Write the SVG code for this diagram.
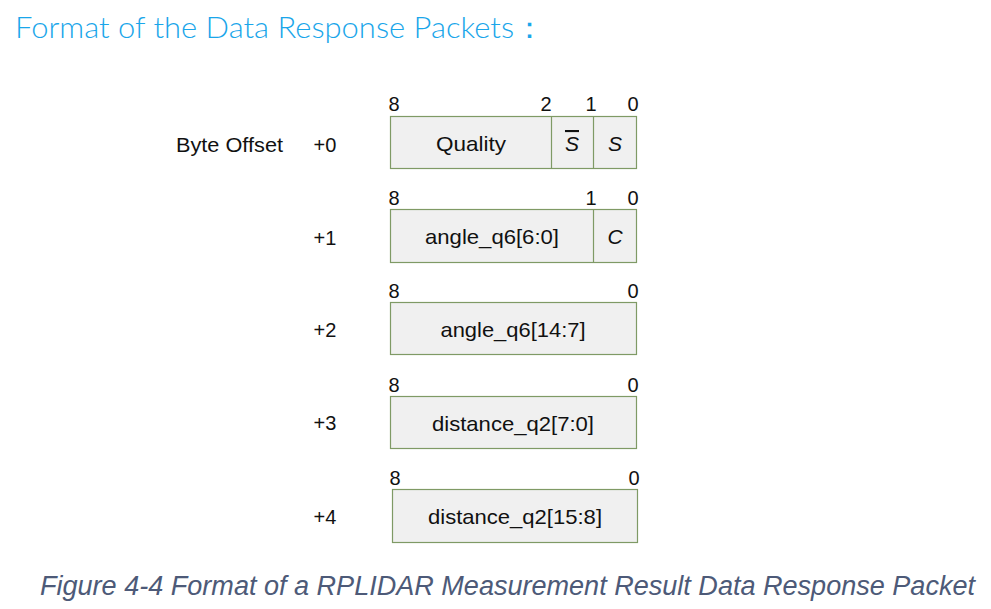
<svg xmlns="http://www.w3.org/2000/svg" width="991" height="609" viewBox="0 0 991 609">
<style>
.t{font-family:"Liberation Sans","Open Sans",sans-serif;font-size:20px;fill:#111}
.l{font-family:"Liberation Sans","Open Sans",sans-serif;font-size:21px;fill:#111}
.n{font-family:"Liberation Sans","Open Sans",sans-serif;font-size:20px;fill:#111}
.box{fill:#f0f0f0;stroke:#7f9a65;stroke-width:1.2}
.div{stroke:#7f9a65;stroke-width:1.2}
.it{font-style:italic}
</style>
<rect width="991" height="609" fill="#fff"/>
<text x="15" y="38" font-family="Lato,'Open Sans',sans-serif" font-weight="300" font-size="30" fill="#1aa6ea" textLength="530" lengthAdjust="spacingAndGlyphs">Format of the Data Response Packets：</text>
<text class="t" x="176" y="152" textLength="107" lengthAdjust="spacingAndGlyphs">Byte Offset</text>
<g id="row0">
<rect class="box" x="390.5" y="116.5" width="246" height="52"/>
<line class="div" x1="551.5" y1="116.5" x2="551.5" y2="168.5"/>
<line class="div" x1="593.5" y1="116.5" x2="593.5" y2="168.5"/>
<text class="t" x="325" y="152" text-anchor="middle">+0</text>
<text class="n" x="394" y="111" text-anchor="middle">8</text>
<text class="n" x="546" y="111" text-anchor="middle">2</text>
<text class="n" x="591" y="111" text-anchor="middle">1</text>
<text class="n" x="633" y="111" text-anchor="middle">0</text>
<text class="l" x="471" y="151" text-anchor="middle" textLength="70" lengthAdjust="spacingAndGlyphs">Quality</text>
<text class="l it" x="572" y="151" text-anchor="middle" text-decoration="overline">S</text>
<text class="l it" x="615" y="151" text-anchor="middle">S</text>
</g>
<g id="row1">
<rect class="box" x="390.5" y="209.5" width="246" height="53"/>
<line class="div" x1="593.5" y1="209.5" x2="593.5" y2="262.5"/>
<text class="t" x="325" y="245" text-anchor="middle">+1</text>
<text class="n" x="394" y="205" text-anchor="middle">8</text>
<text class="n" x="591" y="205" text-anchor="middle">1</text>
<text class="n" x="633" y="205" text-anchor="middle">0</text>
<text class="l" x="492" y="244" text-anchor="middle" textLength="134" lengthAdjust="spacingAndGlyphs">angle_q6[6:0]</text>
<text class="l it" x="615" y="244" text-anchor="middle">C</text>
</g>
<g id="row2">
<rect class="box" x="390.5" y="302.5" width="246" height="52"/>
<text class="t" x="325" y="337" text-anchor="middle">+2</text>
<text class="n" x="394" y="298" text-anchor="middle">8</text>
<text class="n" x="633" y="298" text-anchor="middle">0</text>
<text class="l" x="513" y="337" text-anchor="middle" textLength="145" lengthAdjust="spacingAndGlyphs">angle_q6[14:7]</text>
</g>
<g id="row3">
<rect class="box" x="390.5" y="396.5" width="246" height="52"/>
<text class="t" x="325" y="430" text-anchor="middle">+3</text>
<text class="n" x="394" y="392" text-anchor="middle">8</text>
<text class="n" x="633" y="392" text-anchor="middle">0</text>
<text class="l" x="513" y="431" text-anchor="middle" textLength="162" lengthAdjust="spacingAndGlyphs">distance_q2[7:0]</text>
</g>
<g id="row4">
<rect class="box" x="392.5" y="489.5" width="245" height="53"/>
<text class="t" x="325" y="524" text-anchor="middle">+4</text>
<text class="n" x="395" y="485" text-anchor="middle">8</text>
<text class="n" x="634" y="485" text-anchor="middle">0</text>
<text class="l" x="515" y="524" text-anchor="middle" textLength="174" lengthAdjust="spacingAndGlyphs">distance_q2[15:8]</text>
</g>
<g id="connectors"/>
<text x="40" y="595" font-family="'Liberation Sans','Open Sans',sans-serif" font-style="italic" font-size="27" fill="#4d5a78" textLength="935" lengthAdjust="spacingAndGlyphs">Figure 4-4 Format of a RPLIDAR Measurement Result Data Response Packet</text>
</svg>
